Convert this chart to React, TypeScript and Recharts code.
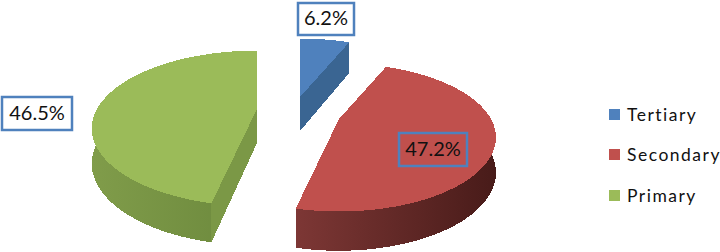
import { PieChart, Pie, Legend } from "recharts"

const categories = ["Tertiary", "Secondary", "Primary"]
const shares = [6.2, 47.2, 46.5]
const colors = ["#4f81bd", "#c0504d", "#9bbb59"]

const pieData = categories.map((name, i) => ({ name, value: shares[i], fill: colors[i] }))

// how the exploded slices sit around the pie centre, and their size
const explode: Record<string, { dx: number; dy: number; scale: number }> = {
  Tertiary: { dx: 4, dy: -20, scale: 1 },
  Secondary: { dx: 43, dy: 2, scale: 0.95 },
  Primary: { dx: -39, dy: -8, scale: 1 },
}

const labelBoxes: Record<string, { x: number; y: number; w: number; h: number; fill: string }> = {
  Tertiary: { x: 298, y: 3, w: 56, h: 32, fill: "#fff" },
  Secondary: { x: 399, y: 133, w: 68, h: 33, fill: "none" },
  Primary: { x: 2, y: 97, w: 70, h: 33, fill: "#fff" },
}

const wallColors: Record<string, { from: string; to: string; radial: string }> = {
  Tertiary: { from: "#3a6592", to: "#3a6592", radial: "#3a6592" },
  Secondary: { from: "#7d3735", to: "#481b19", radial: "#6e2f2d" },
  Primary: { from: "#809c4a", to: "#6b883c", radial: "#7b9846" },
}

const SQUASH = 73
const PERSPECTIVE = 0.25
const DEPTH = 34
const FULL_RADIUS = 160

function project(cx: number, cy: number, deg: number, r: number, size: number, down = 0) {
  const t = (deg * Math.PI) / 180
  const far = (r / FULL_RADIUS) * Math.cos(t)
  const s = 1 / (1 + PERSPECTIVE * far)
  return {
    x: cx + r * size * Math.sin(t) * s,
    y: cy - (r / FULL_RADIUS) * SQUASH * size * Math.cos(t) * s + down * Math.sqrt(s),
  }
}

const toPath = (pts: { x: number; y: number }[]) =>
  "M" + pts.map((p) => `${p.x.toFixed(1)} ${p.y.toFixed(1)}`).join("L") + "Z"

function Slice3D(props: any) {
  const { cx, cy, startAngle, endAngle, outerRadius, name, fill } = props
  const { dx, dy, scale } = explode[name]
  const ox = cx + dx
  const oy = cy + dy
  // recharts angles run counter-clockwise from 3 o'clock, ours clockwise from 12
  const from = 90 - startAngle
  const to = 90 - endAngle
  const arc = (down: number) => {
    const pts = []
    for (let i = 0; i <= 90; i++) pts.push(project(ox, oy, from + ((to - from) * i) / 90, outerRadius, scale, down))
    return pts
  }
  const top = arc(0)
  const bottom = arc(DEPTH)
  const centre = project(ox, oy, 0, 0, scale)
  const centreLow = project(ox, oy, 0, 0, scale, DEPTH)
  const wall = wallColors[name]
  const gradId = `wall-${name}`
  return (
    <g shapeRendering="crispEdges">
      <defs>
        <linearGradient id={gradId} x1="0" x2="1" y1="0" y2="0">
          <stop offset="0%" stopColor={wall.from} />
          <stop offset="100%" stopColor={wall.to} />
        </linearGradient>
      </defs>
      <path d={toPath([centre, top[0], bottom[0], centreLow])} fill={wall.radial} />
      <path d={toPath([centre, top[90], bottom[90], centreLow])} fill={wall.radial} />
      <path d={toPath([...top, ...bottom.slice().reverse()])} fill={`url(#${gradId})`} />
      <path d={toPath([centre, ...top])} fill={fill} />
    </g>
  )
}

function BoxLabel(props: any) {
  const { name, value } = props
  const b = labelBoxes[name]
  return (
    <g>
      <rect x={b.x} y={b.y} width={b.w} height={b.h} fill={b.fill} stroke="#4f81bd" strokeWidth={2.5} />
      <text
        x={b.x + b.w / 2}
        y={b.y + b.h / 2 + 1}
        textAnchor="middle"
        dominantBaseline="middle"
        fontFamily="Lato"
        fontSize={20}
        fill="#111"
      >
        {`${value}%`}
      </text>
    </g>
  )
}

function LegendList() {
  return (
    <div style={{ fontFamily: "Lato", fontSize: 17.5, letterSpacing: 1.5, color: "#111" }}>
      {pieData.map((d) => (
        <div key={d.name} style={{ display: "flex", alignItems: "center", height: 40.5, whiteSpace: "nowrap" }}>
          <span style={{ width: 11, height: 11, background: d.fill, marginRight: 7, flex: "none" }} />
          {d.name}
        </div>
      ))}
    </div>
  )
}

export default function App() {
  return (
    <div style={{ position: "absolute", left: 0, top: 0, width: 720, height: 252, background: "#fff", overflow: "hidden" }}>
      <PieChart width={720} height={252} margin={{ top: 0, right: 0, bottom: 0, left: 0 }}>
        <Pie
          data={pieData}
          dataKey="value"
          nameKey="name"
          cx={296}
          cy={117}
          outerRadius={FULL_RADIUS}
          startAngle={90}
          endAngle={-270}
          stroke="none"
          shape={Slice3D}
          label={BoxLabel}
          labelLine={false}
          isAnimationActive={false}
        />
        <Legend
          layout="vertical"
          align="right"
          verticalAlign="top"
          content={LegendList}
          wrapperStyle={{ left: 609, top: 94, width: 111 }}
        />
      </PieChart>
    </div>
  )
}
